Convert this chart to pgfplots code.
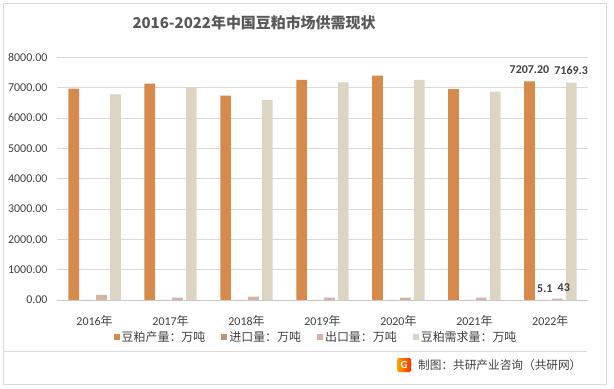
\documentclass[border=0pt]{standalone}
\usepackage{pgfplots}
\pgfplotsset{compat=1.18}
\usepackage{fontspec}
\setmainfont{Carlito}
\newfontfamily\cjk{Noto Sans CJK SC}
\definecolor{cprod}{HTML}{D68B4D}
\definecolor{cimp}{HTML}{BF926E}
\definecolor{cexp}{HTML}{D6B2A8}
\definecolor{cdem}{HTML}{DDD5C3}
\definecolor{gridc}{HTML}{D9D9D9}
\definecolor{axisc}{HTML}{C8C8C8}
\definecolor{tickc}{HTML}{404040}
\definecolor{titlec}{HTML}{595959}
\definecolor{borderc}{HTML}{D9D9D9}
\pgfplotsset{sqleg/.style={legend image code/.code={\fill[##1] (0bp,-3bp) rectangle (6bp,3bp);}}}
\begin{document}
\begin{tikzpicture}[x=1bp,y=1bp]
\useasboundingbox (0,0) rectangle (614,388);
\draw[borderc, line width=1bp] (3,3.7) rectangle (606,384);
\draw[gridc, line width=0.8bp] (3,36.7) -- (587,36.7);
\node[font=\cjk\bfseries\fontsize{15}{18}\selectfont, text=titlec] at (254,365.5) {2016-2022年中国豆粕市场供需现状};
\begin{axis}[
  at={(56.6bp,88bp)}, anchor=south west, scale only axis,
  width=531.7bp, height=242.7bp,
  ybar=3.2bp, bar width=10.7bp,
  xmin=-0.5, xmax=6.5, ymin=0, ymax=8000,
  xtick={0,1,2,3,4,5,6},
  xticklabels={2016{\cjk 年},2017{\cjk 年},2018{\cjk 年},2019{\cjk 年},2020{\cjk 年},2021{\cjk 年},2022{\cjk 年}},
  ytick={0,1000,2000,3000,4000,5000,6000,7000,8000},
  x tick label style={font=\fontsize{12}{14}\selectfont, text=tickc, yshift=-11.6bp, text height=10.5bp, text depth=1.5bp},
  y tick label style={font=\fontsize{12}{14}\selectfont, text=tickc, xshift=-5.6bp,
    /pgf/number format/.cd, fixed, fixed zerofill, precision=2, 1000 sep={}, assume math mode=true},
  ymajorgrids, grid style={gridc, line width=0.8bp},
  axis line style={draw=none}, major tick length=0pt, tick style={draw=none},
  point meta=explicit symbolic,
  nodes near coords, nodes near coords align={vertical},
  every node near coord/.append style={font=\bfseries\fontsize{12}{14}\selectfont, text=tickc, yshift=4bp},
  legend columns=4,
  legend style={at={(0.488,-0.1525)}, anchor=center, draw=none, fill=none,
    font=\cjk\fontsize{12}{14}\selectfont, text=tickc,
    /tikz/every even column/.append style={column sep=14bp}},
]
\addplot[fill=cprod, draw=none, sqleg] coordinates {(0,6967) [{}] (1,7129) [{}] (2,6733) [{}] (3,7260) [{}] (4,7393) [{}] (5,6953) [{}] (6,7207.2) [7207.20]};
\addlegendentry{豆粕产量：万吨}
\addplot[fill=cimp, draw=none, sqleg, every node near coord/.append style={xshift=1.5bp}] coordinates {(0,2) [{}] (1,2) [{}] (2,2) [{}] (3,3) [{}] (4,4) [{}] (5,5) [{}] (6,5.1) [5.1]};
\addlegendentry{进口量：万吨}
\addplot[fill=cexp, draw=none, sqleg, every node near coord/.append style={xshift=6.5bp}] coordinates {(0,165) [{}] (1,76) [{}] (2,109) [{}] (3,76) [{}] (4,76) [{}] (5,76) [{}] (6,43) [43]};
\addlegendentry{出口量：万吨}
\addplot[fill=cdem, draw=none, sqleg] coordinates {(0,6776) [{}] (1,7020) [{}] (2,6600) [{}] (3,7172) [{}] (4,7260) [{}] (5,6865) [{}] (6,7169.3) [7169.3]};
\addlegendentry{豆粕需求量：万吨}
\draw[axisc, line width=0.8bp] (rel axis cs:0,0) -- (rel axis cs:1,0);
\end{axis}
\shade[left color=orange!70!yellow, right color=red!65!orange, rounded corners=1.5bp] (397,16) rectangle (411,30);
\node[text=white, font=\bfseries\fontsize{11}{11}\selectfont, inner sep=0pt] at (404,23) {G};
\node[anchor=west, font=\cjk\fontsize{11.7}{14}\selectfont, text=tickc, inner sep=0pt] at (418,23) {制图：共研产业咨询（共研网）};
\end{tikzpicture}
\end{document}
